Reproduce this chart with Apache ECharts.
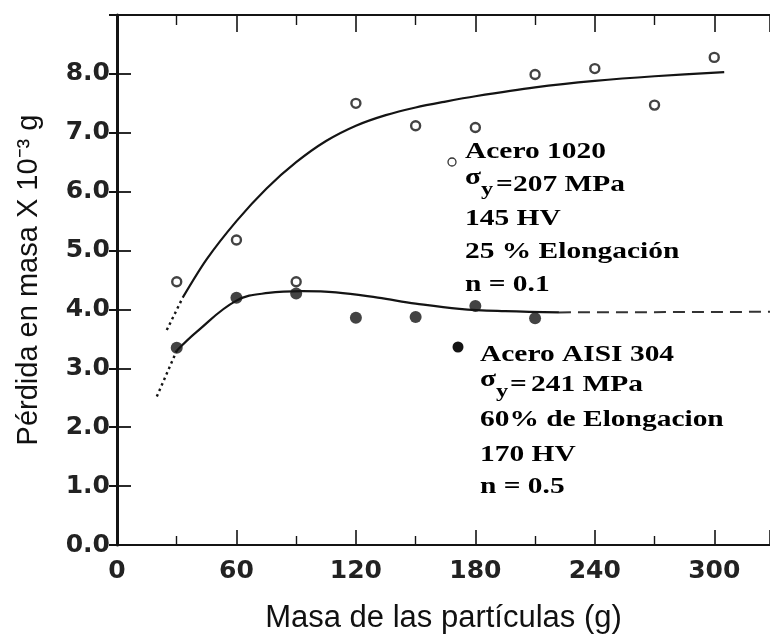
<!DOCTYPE html>
<html>
<head>
<meta charset="utf-8">
<script src="https://cdn.jsdelivr.net/npm/echarts@6/dist/echarts.min.js"></script>
<style>
  html, body { margin: 0; padding: 0; background: #fff; }
  #chart { width: 770px; height: 639px; }
</style>
</head>
<body>
<div id="chart"></div>
<script>
// Ensayos de erosión: pérdida de masa frente a la masa de partículas
const masaEnsayo1020 = [30, 60, 90, 120, 150, 180, 210, 240, 270, 300];
const perdida1020 = [4.47, 5.18, 4.47, 7.50, 7.12, 7.09, 7.99, 8.09, 7.47, 8.28];

const masaEnsayo304 = [30, 60, 90, 120, 150, 180, 210];
const perdida304 = [3.35, 4.20, 4.27, 3.86, 3.87, 4.06, 3.85];

// Curvas de ajuste trazadas a mano
const curva1020Masa = [33, 45, 60, 75, 90, 105, 120, 135, 150, 165, 180, 210, 240, 270, 305];
const curva1020Perdida = [4.20, 4.85, 5.50, 6.05, 6.50, 6.86, 7.12, 7.30, 7.43, 7.53, 7.62, 7.77, 7.88, 7.96, 8.03];
const extrap1020Masa = [25, 33];
const extrap1020Perdida = [3.65, 4.20];

const curva304Masa = [30, 40, 60, 76, 93, 110, 131, 150, 172, 195, 222];
const curva304Perdida = [3.30, 3.62, 4.15, 4.28, 4.31, 4.29, 4.20, 4.10, 4.01, 3.97, 3.95];
const extrap304Masa = [20, 30];
const extrap304Perdida = [2.52, 3.30];
const tendencia304Masa = [222, 330];
const tendencia304Perdida = [3.95, 3.96];

const ticksMasa = [0, 60, 120, 180, 240, 300];
const ticksPerdida = ['0.0', '1.0', '2.0', '3.0', '4.0', '5.0', '6.0', '7.0', '8.0'];

const pares = (xs, ys) => xs.map((x, i) => [x, ys[i]]);

const INK = '#141414';
const tickFont = { fontFamily: 'DejaVu Sans', fontWeight: 'bold', fontSize: 25, color: '#222' };

// Bloques de texto con las propiedades de cada acero
const serif = 'bold 23px "Liberation Serif"';
const subFont = 'bold 19px "Liberation Serif"';
const ESC = 1.28;
function linea(texto, x, base, font) {
  return {
    type: 'text', x: x, y: base - 7.5, scaleX: ESC, z: 10,
    style: { text: texto, x: 0, y: 0, font: font || serif, fill: '#000', verticalAlign: 'middle', align: 'left' }
  };
}
const anotaciones = [
  // Acero 1020
  { type: 'circle', shape: { cx: 452, cy: 162, r: 4 }, style: { fill: '#fff', stroke: '#333', lineWidth: 1.3 }, z: 10 },
  linea('Acero 1020', 465, 160),
  linea('σ', 465, 186),
  linea('y', 481, 198, subFont),
  linea('=', 496, 193),
  linea('207 MPa', 513, 193),
  linea('145 HV', 465, 227),
  linea('25 % Elongación', 465, 260),
  linea('n = 0.1', 465, 293),
  // Acero AISI 304
  { type: 'circle', shape: { cx: 458, cy: 347, r: 5.5 }, style: { fill: INK }, z: 10 },
  linea('Acero AISI 304', 480, 363),
  linea('σ', 480, 388),
  linea('y', 496, 400, subFont),
  linea('=', 510, 393),
  linea('241 MPa', 531, 393),
  linea('60% de Elongacion', 480, 428),
  linea('170 HV', 480, 463),
  linea('n = 0.5', 480, 495)
];

const chart = echarts.init(document.getElementById('chart'), null, { renderer: 'canvas' });

const ejeX = {
  type: 'value', min: 0, max: 328, interval: 60
};

chart.setOption({
  backgroundColor: '#fff',
  animation: false,
  grid: { left: 117, top: 15, width: 656, height: 532, containLabel: false },
  xAxis: [
    Object.assign({}, ejeX, {
      position: 'bottom',
      name: 'Masa de las partículas (g)',
      nameLocation: 'middle',
      nameGap: 58,
      nameTextStyle: { fontFamily: 'Liberation Sans', fontSize: 31, color: '#111' },
      axisLine: { show: true, onZero: false, lineStyle: { color: INK, width: 2 } },
      axisTick: { show: true, inside: true, length: 15, lineStyle: { color: INK, width: 1.6 } },
      minorTick: { show: true, splitNumber: 2, length: 9, lineStyle: { color: INK, width: 1.4 } },
      splitLine: { show: false },
      axisLabel: Object.assign({ margin: 14, showMaxLabel: false,
        formatter: v => ticksMasa.includes(v) ? String(v) : '' }, tickFont)
    }),
    Object.assign({}, ejeX, {
      position: 'top',
      axisLine: { show: true, onZero: false, lineStyle: { color: INK, width: 2 } },
      axisTick: { show: true, inside: true, length: 17, lineStyle: { color: INK, width: 1.6 } },
      minorTick: { show: true, splitNumber: 2, length: 10, lineStyle: { color: INK, width: 1.4 } },
      splitLine: { show: false },
      axisLabel: { show: false }
    })
  ],
  yAxis: [
    {
      type: 'value', min: 0, max: 9, interval: 1, position: 'left',
      name: 'Pérdida en masa X 10⁻³ g',
      nameLocation: 'middle',
      nameGap: 74,
      nameRotate: 90,
      nameTextStyle: { fontFamily: 'Liberation Sans', fontSize: 29, color: '#111' },
      axisLine: { show: true, onZero: false, lineStyle: { color: INK, width: 3 } },
      axisTick: { show: true, inside: true, length: 14, lineStyle: { color: INK, width: 1.8 } },
      splitLine: { show: false },
      axisLabel: Object.assign({ margin: 7, showMaxLabel: false,
        formatter: v => ticksPerdida[Math.round(v)] || '' }, tickFont)
    },
    {
      type: 'value', min: 0, max: 9, interval: 1, position: 'right',
      axisLine: { show: false },
      axisTick: { show: true, inside: true, length: 8, lineStyle: { color: INK, width: 2 } },
      splitLine: { show: false },
      axisLabel: { show: false }
    }
  ],
  graphic: anotaciones,
  series: [
    {
      type: 'line', data: pares(curva1020Masa, curva1020Perdida), smooth: 0.3,
      showSymbol: false, lineStyle: { color: INK, width: 2.2 }, z: 2
    },
    {
      type: 'line', data: pares(extrap1020Masa, extrap1020Perdida),
      showSymbol: false, lineStyle: { color: INK, width: 2.4, type: [2.5, 3.5] }, z: 2
    },
    {
      type: 'line', data: pares(curva304Masa, curva304Perdida), smooth: 0.4,
      showSymbol: false, lineStyle: { color: INK, width: 2.2 }, z: 2
    },
    {
      type: 'line', data: pares(extrap304Masa, extrap304Perdida),
      showSymbol: false, lineStyle: { color: INK, width: 2.4, type: [2.5, 3.5] }, z: 2
    },
    {
      type: 'line', data: pares(tendencia304Masa, tendencia304Perdida),
      showSymbol: false, lineStyle: { color: '#333', width: 2, type: [12, 7] }, z: 2
    },
    {
      type: 'scatter', data: pares(masaEnsayo304, perdida304), symbol: 'circle', symbolSize: 12,
      itemStyle: { color: INK }, z: 3
    },
    {
      type: 'scatter', data: pares(masaEnsayo1020, perdida1020), symbol: 'circle', symbolSize: 9,
      itemStyle: { color: '#fff', borderColor: INK, borderWidth: 2.4 }, z: 4
    }
  ]
});
</script>
</body>
</html>
